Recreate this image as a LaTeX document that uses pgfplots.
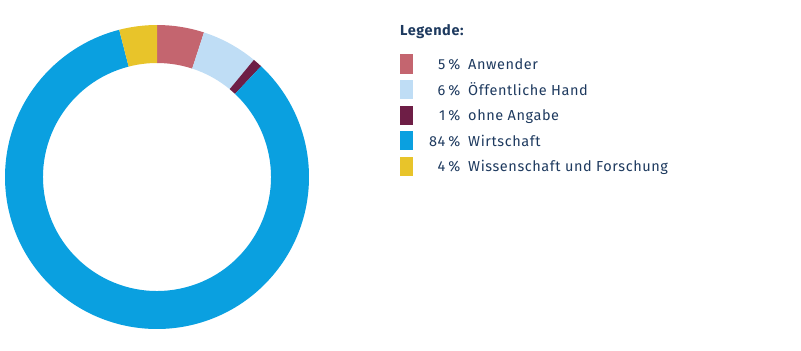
\documentclass[border=0pt]{standalone}
\usepackage{pgfplots}
\usepackage{pgfplotstable}
\pgfplotsset{compat=1.18}
\usepackage{fontspec}
\setmainfont{Fira Sans}[LetterSpace=4]
\definecolor{cAnw}{HTML}{C4656F}
\definecolor{cOef}{HTML}{BFDDF5}
\definecolor{cOhne}{HTML}{6E1E46}
\definecolor{cWirt}{HTML}{0AA0E0}
\definecolor{cWiss}{HTML}{E8C42A}
\definecolor{txt}{HTML}{1E3A5F}

\pgfplotstableread[col sep=comma]{
label,value,color
Anwender,5,cAnw
Öffentliche Hand,6,cOef
ohne Angabe,1,cOhne
Wirtschaft,84,cWirt
Wissenschaft und Forschung,4,cWiss
}\datatable

\begin{document}
\begin{tikzpicture}
\gdef\wedgelist{}
\gdef\legendlist{}
\gdef\cum{0}
\pgfplotstablegetrowsof{\datatable}
\pgfmathtruncatemacro\lastrow{\pgfplotsretval-1}
\foreach \i in {0,...,\lastrow}{%
  \pgfplotstablegetelem{\i}{value}\of\datatable \edef\myv{\pgfplotsretval}%
  \pgfplotstablegetelem{\i}{color}\of\datatable \edef\myc{\pgfplotsretval}%
  \pgfplotstablegetelem{\i}{label}\of\datatable \edef\myl{\pgfplotsretval}%
  \pgfmathsetmacro\mya{90-3.6*\cum}%
  \pgfmathsetmacro\myb{90-3.6*(\cum+\myv)}%
  \pgfmathsetmacro\xa{157+152*cos(\mya)}%
  \pgfmathsetmacro\ya{177-152*sin(\mya)}%
  \pgfmathsetmacro\xb{157+114*cos(\myb)}%
  \pgfmathsetmacro\yb{177-114*sin(\myb)}%
  \pgfmathsetmacro\yl{64+25.5*\i}%
  \pgfmathsetmacro\ylt{\yl-9.5}%
  \pgfmathsetmacro\ylb{\yl+9.5}%
  \pgfmathsetmacro\ybase{\yl+5.5}%
  \pgfmathtruncatemacro\vv{\myv}%
  \xdef\wedgelist{\unexpanded\expandafter{\wedgelist}%
    \noexpand\fill[\myc] (axis cs:\xa,\ya) arc[start angle=\mya, end angle=\myb, radius=152bp]
      -- (axis cs:\xb,\yb) arc[start angle=\myb, end angle=\mya, radius=114bp] -- cycle;}%
  \xdef\legendlist{\unexpanded\expandafter{\legendlist}%
    \noexpand\fill[\myc] (axis cs:400,\ylt) rectangle (axis cs:412.7,\ylb);
    \noexpand\node[anchor=base east, inner sep=0pt, text=txt] at (axis cs:460.5,\ybase) {\vv\noexpand\hspace{3bp}\noexpand\%};
    \noexpand\node[anchor=base west, inner sep=0pt, text=txt] at (axis cs:468,\ybase) {\myl};}%
  \pgfmathsetmacro\newcum{\cum+\myv}\xdef\cum{\newcum}%
}
\begin{axis}[
  name=ax,
  scale only axis, width=801bp, height=351bp,
  xmin=0, xmax=801, ymin=0, ymax=351, y dir=reverse,
  hide axis, clip=false,
  font=\fontsize{14.5bp}{17bp}\selectfont,
]
\addplot[draw=none] coordinates {(0,0) (801,351)};
\wedgelist
\legendlist
\node[anchor=base west, inner sep=0pt, text=txt, font=\fontsize{14.5bp}{17bp}\selectfont\bfseries] at (axis cs:400,35.5) {Legende:};
\end{axis}
\pgfresetboundingbox
\path[use as bounding box] (ax.south west) rectangle (ax.north east);
\end{tikzpicture}
\end{document}
